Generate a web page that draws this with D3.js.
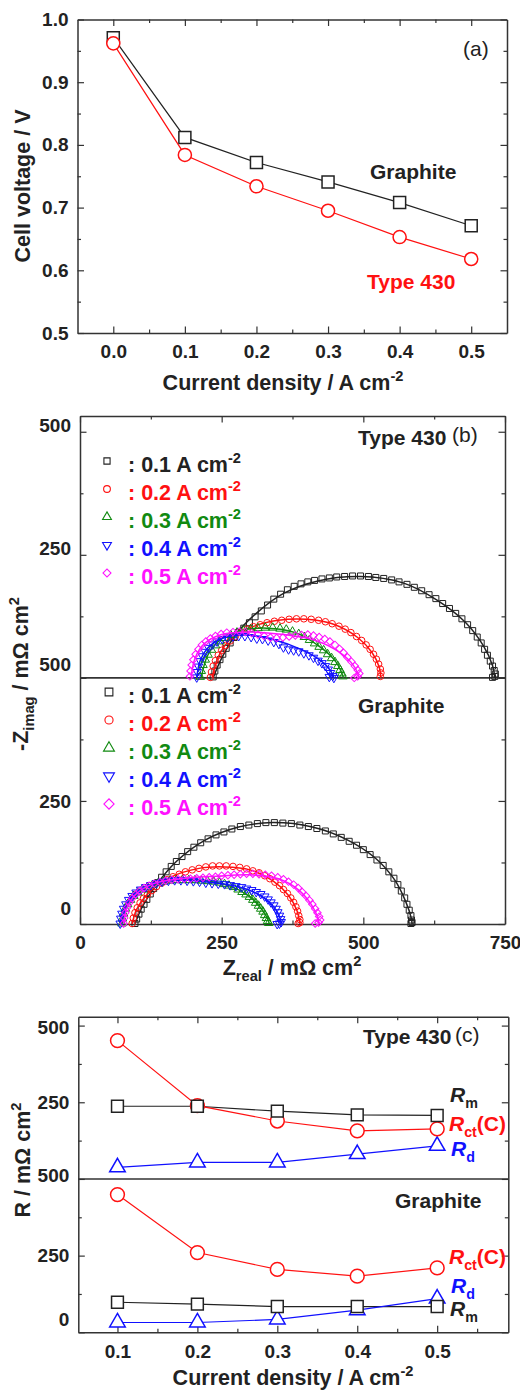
<!DOCTYPE html>
<html>
<head>
<meta charset="utf-8">
<script src="https://cdn.jsdelivr.net/npm/d3@7"></script>
<style>
  body { margin: 0; background: #fff; }
  svg { display: block; font-family: "Liberation Sans", Arial, sans-serif; }
</style>
</head>
<body>
<script>
// ---- data: (a) polarization curves
const densityA = [0.0, 0.1, 0.2, 0.3, 0.4, 0.5];
const voltGraphite = [0.971, 0.812, 0.772, 0.741, 0.708, 0.671];
const voltType430 = [0.962, 0.784, 0.734, 0.695, 0.653, 0.618];

// ---- data: (b) Nyquist plots, [Zreal, -Zimag] in mOhm cm2
const legendLabels = ["0.1", "0.2", "0.3", "0.4", "0.5"];

const t430_01 = [[235,2],[238,14],[242,26],[247,37],[252,48],[258,60],[265,71],[272,82],[280,92],[289,101],[299,112],[309,124],[320,136],[331,148],[342,160],[354,170],[366,179],[378,186],[390,191],[402,195],[414,198],[427,201],[440,203],[453,205],[467,206],[481,207],[495,207],[509,206],[522,204],[536,202],[550,199],[563,195],[577,190],[590,184],[603,177],[616,169],[628,161],[640,151],[652,141],[663,131],[674,120],[684,108],[693,96],[701,83],[708,71],[714,58],[719,46],[724,34],[728,24],[731,15],[733,8],[732,3],[728,1]];
const t430_01Fit = [[235,0],[250,40],[275,88],[310,130],[360,172],[420,197],[495,206],[570,193],[630,158],[680,113],[712,65],[728,25],[732,0]];
const t430_02 = [[230,1],[232,12],[235,24],[239,35],[244,46],[250,56],[257,66],[265,75],[274,84],[284,92],[295,99],[306,104],[318,108],[330,112],[343,115],[356,117],[369,119],[382,120],[395,120],[408,119],[421,117],[433,114],[445,110],[457,105],[468,99],[478,92],[488,84],[497,76],[505,67],[512,58],[518,48],[523,38],[527,28],[530,18],[531,10],[530,3]];
const t430_02Fit = [[233,0],[245,45],[265,78],[300,102],[350,117],[400,119],[450,108],[490,82],[515,52],[528,22],[531,0]];
const t430_03 = [[212,2],[214,14],[217,26],[221,37],[226,47],[232,57],[239,66],[247,74],[256,81],[266,87],[277,92],[289,96],[301,99],[314,101],[327,102],[340,102],[353,100],[364,98],[375,94],[386,89],[396,83],[405,77],[414,70],[422,63],[430,56],[437,48],[444,40],[450,32],[455,24],[459,16],[462,9],[464,3]];
const t430_03Fit = [[214,0],[225,45],[245,75],[280,95],[330,101],[380,92],[420,66],[450,35],[462,10],[465,0]];
const t430_04 = [[206,1],[207,12],[209,23],[212,34],[216,44],[221,53],[227,61],[234,68],[242,74],[251,79],[260,82],[270,84],[280,85],[291,85],[302,83],[312,80],[322,79],[332,76],[342,73],[351,69],[359,62],[368,58],[377,56],[386,54],[395,50],[404,46],[412,41],[420,35],[427,30],[433,24],[438,17],[442,10],[446,4],[448,0],[440,2]];
const t430_04Fit = [[206,0],[212,35],[225,60],[250,80],[290,87],[340,78],[390,58],[425,35],[442,15],[448,0]];
const t430_05 = [[194,3],[195,14],[197,26],[200,37],[204,48],[209,58],[215,67],[222,74],[230,80],[239,85],[249,89],[259,92],[270,93],[281,94],[292,93],[303,91],[314,88],[325,85],[336,82],[347,81],[358,82],[369,84],[380,86],[391,87],[402,88],[412,86],[422,83],[432,79],[441,74],[450,67],[458,59],[465,51],[472,42],[479,33],[485,24],[490,16],[493,9],[490,3],[484,0]];
const t430_05Fit = [[196,0],[203,40],[220,70],[250,88],[300,93],[360,88],[410,78],[450,58],[478,32],[490,10],[492,0]];

const gr_01 = [[97,1],[100,10],[104,20],[108,30],[113,40],[118,50],[124,61],[130,72],[137,84],[144,95],[152,106],[161,117],[170,127],[180,137],[190,147],[201,156],[213,165],[226,173],[240,181],[254,187],[268,193],[283,198],[298,201],[313,204],[328,206],[343,206],[358,205],[373,204],[388,201],[403,198],[418,194],[433,189],[447,183],[461,176],[475,168],[488,160],[500,151],[512,141],[524,130],[535,119],[545,106],[554,93],[561,80],[567,67],[573,53],[577,40],[581,28],[584,17],[585,8],[586,3],[584,1]];
const gr_01Fit = [[97,0],[110,35],[135,80],[170,127],[220,170],[280,197],[340,206],[410,197],[470,172],[520,135],[555,90],[575,45],[585,10],[586,0]];
const gr_02 = [[92,1],[94,12],[97,23],[101,33],[106,43],[112,52],[119,60],[127,68],[135,76],[144,83],[154,90],[164,96],[175,101],[186,106],[198,110],[210,113],[222,116],[234,118],[246,118],[258,118],[270,117],[282,115],[294,112],[305,108],[316,104],[326,98],[335,92],[344,85],[352,78],[359,70],[366,62],[372,53],[377,44],[381,35],[384,26],[386,17],[388,9],[388,3],[385,1]];
const gr_02Fit = [[92,0],[100,30],[120,62],[160,95],[210,113],[255,116],[300,110],[340,88],[368,58],[383,27],[388,0]];
const gr_03 = [[74,1],[75,11],[77,21],[80,31],[84,40],[89,49],[95,57],[102,64],[110,70],[119,75],[128,79],[138,83],[148,86],[159,88],[170,89],[181,89],[192,89],[203,89],[214,88],[225,87],[236,86],[246,84],[255,81],[263,78],[271,75],[279,70],[286,65],[293,60],[299,55],[305,49],[310,43],[315,37],[319,31],[323,25],[326,18],[329,12],[331,6],[333,2]];
const gr_03Fit = [[74,0],[80,30],[95,57],[125,78],[170,89],[220,88],[265,77],[300,55],[322,28],[332,8],[334,0]];
const gr_04 = [[71,1],[72,11],[74,21],[77,31],[81,40],[86,49],[92,57],[99,64],[107,70],[116,75],[125,79],[135,83],[145,86],[156,88],[167,89],[178,89],[189,88],[200,87],[211,86],[222,84],[233,83],[244,82],[255,81],[265,79],[275,77],[285,75],[294,72],[303,69],[311,65],[319,61],[326,56],[332,50],[337,44],[342,38],[346,31],[349,24],[352,17],[354,10],[355,4],[352,1],[348,0]];
const gr_04Fit = [[71,0],[77,30],[92,57],[120,78],[165,89],[220,86],[270,78],[310,63],[338,40],[352,15],[355,0]];
const gr_05 = [[77,1],[78,12],[80,23],[83,33],[87,43],[92,52],[98,60],[105,67],[113,73],[122,78],[131,82],[141,85],[151,88],[162,90],[173,91],[184,92],[195,92],[206,93],[217,94],[228,95],[239,96],[250,98],[261,99],[272,100],[283,101],[294,102],[305,102],[316,101],[327,100],[338,98],[349,95],[359,91],[368,86],[377,80],[385,73],[392,65],[399,57],[405,48],[410,40],[415,31],[419,23],[422,15],[424,8],[421,3],[415,1]];
const gr_05Fit = [[77,0],[83,33],[98,60],[130,82],[180,92],[240,97],[300,100],[350,92],[385,70],[408,40],[420,12],[422,0]];

// ---- data: (c) resistances in mOhm cm2
const densityC = [0.1, 0.2, 0.3, 0.4, 0.5];
const rmType430 = [237, 237, 221, 209, 207];
const rctType430 = [451, 239, 189, 157, 163];
const rdType430 = [38, 54, 54, 81, 108];
const rmGraphite = [98, 92, 84, 84, 84];
const rctGraphite = [449, 260, 205, 183, 210];
const rdGraphite = [32, 32, 42, 72, 110];

// ---- styles
const dark = "#222", red = "#ff1111", green = "#118a11", blue = "#1111ff", magenta = "#ff11ff";
const seriesColors = [dark, red, green, blue, magenta];
const seriesShapes = ["square", "circle", "up", "down", "diamond"];
const STACK = 500; // Type 430 traces are stacked on top of the graphite traces
const TITLE = 21.5, TICK = 19;

const svg = d3.select("body").append("svg")
    .attr("width", 520)
    .attr("height", 1390);

function symbolPath(shape, size) {
  const type = shape === "circle" ? d3.symbolCircle
    : (shape === "square" || shape === "diamond") ? d3.symbolSquare
    : d3.symbolTriangle;
  return d3.symbol(type, size)();
}
function shapeRot(shape) {
  return shape === "diamond" ? 45 : shape === "down" ? 180 : 0;
}

function drawMarkers(g, pts, shape, size, color, fill, sw) {
  g.append("g").selectAll("path")
    .data(pts)
    .join("path")
    .attr("d", symbolPath(shape, size))
    .attr("transform", d => `translate(${d[0]},${d[1]}) rotate(${shapeRot(shape)})`)
    .attr("fill", fill)
    .attr("stroke", color)
    .attr("stroke-width", sw);
}

// text with sub / superscripts; parts = strings or [text, "sub"|"sup"|null, italic]
function rich(g, x, y, parts, o = {}) {
  const size = o.size || 21;
  const t = g.append("text")
    .attr("transform", `translate(${x},${y})${o.rotate ? " rotate(-90)" : ""}`)
    .attr("text-anchor", o.anchor || "start")
    .attr("font-size", size)
    .attr("font-weight", o.weight || "bold")
    .attr("fill", o.color || dark);
  let shift = 0;
  parts.forEach(p => {
    const [str, kind, italic] = typeof p === "string" ? [p] : p;
    const target = kind === "sup" ? -size * 0.42 : kind === "sub" ? size * 0.3 : 0;
    const s = t.append("tspan").text(str).attr("dy", target - shift);
    if (kind) s.attr("font-size", size * 0.68);
    if (italic) s.attr("font-style", "italic");
    shift = target;
  });
  return t;
}

// box with inward major/minor ticks on all four sides
function frame(g, x, y, xt, yt) {
  const [x0, x1] = x.range();
  const [y0, y1] = y.range();
  const styleAxis = sel => {
    sel.select(".domain").attr("stroke", "#333").attr("stroke-width", 1.5);
    sel.selectAll(".tick line").attr("stroke", "#333").attr("stroke-width", 1.2);
    sel.selectAll("text").attr("font-size", TICK).attr("font-weight", "bold").attr("fill", dark)
      .attr("font-family", "'Liberation Sans', Arial, sans-serif");
  };
  const minor = (sel, axis) => sel.call(axis.tickSize(-3.5).tickFormat(""))
    .call(s => s.select(".domain").remove())
    .selectAll(".tick line").attr("stroke", "#333").attr("stroke-width", 1.2);

  g.append("g").attr("transform", `translate(0,${y0})`)
    .call(d3.axisBottom(x).tickValues(xt.major).tickFormat(xt.fmt).tickSize(-6.5).tickSizeOuter(0).tickPadding(12))
    .call(styleAxis);
  g.append("g").attr("transform", `translate(0,${y1})`)
    .call(d3.axisTop(x).tickValues(xt.major).tickFormat("").tickSize(-6.5).tickSizeOuter(0))
    .call(styleAxis);
  g.append("g").attr("transform", `translate(${x0},0)`)
    .call(d3.axisLeft(y).tickValues(yt.major).tickFormat(yt.fmt).tickSize(-6.5).tickSizeOuter(0).tickPadding(9))
    .call(styleAxis)
    .selectAll("text").attr("y", d => (yt.shift ? yt.shift(d) : 0));
  g.append("g").attr("transform", `translate(${x1},0)`)
    .call(d3.axisRight(y).tickValues(yt.major).tickFormat("").tickSize(-6.5).tickSizeOuter(0))
    .call(styleAxis);

  g.append("g").attr("transform", `translate(0,${y0})`).call(minor, d3.axisBottom(x).tickValues(xt.minor));
  g.append("g").attr("transform", `translate(0,${y1})`).call(minor, d3.axisTop(x).tickValues(xt.minor));
  g.append("g").attr("transform", `translate(${x0},0)`).call(minor, d3.axisLeft(y).tickValues(yt.minor));
  g.append("g").attr("transform", `translate(${x1},0)`).call(minor, d3.axisRight(y).tickValues(yt.minor));
}

// ================= (a) cell voltage =================
{
  const g = svg.append("g");
  const x = d3.scaleLinear().domain([-0.05, 0.55]).range([77.5, 507]);
  const y = d3.scaleLinear().domain([0.5, 1.0]).range([333, 19.5]);
  frame(g, x, y,
    { major: [0, 0.1, 0.2, 0.3, 0.4, 0.5], minor: [0.05, 0.15, 0.25, 0.35, 0.45], fmt: d3.format(".1f") },
    { major: [0.5, 0.6, 0.7, 0.8, 0.9, 1.0], minor: [0.55, 0.65, 0.75, 0.85, 0.95], fmt: d3.format(".1f") });

  const line = d3.line().x(d => x(d[0])).y(d => y(d[1]));
  [[voltGraphite, dark, "square", 144], [voltType430, red, "circle", 135]].forEach(([vals, c, shape, size]) => {
    const pts = densityA.map((d, i) => [d, vals[i]]);
    g.append("path").attr("d", line(pts)).attr("fill", "none").attr("stroke", c).attr("stroke-width", 1.2);
    drawMarkers(g, pts.map(p => [x(p[0]), y(p[1])]), shape, size, c, "#fff", 1.5);
  });

  rich(g, 370, 179, ["Graphite"]);
  rich(g, 367, 289, ["Type 430"], { color: red });
  rich(g, 463, 56, ["(a)"], { weight: "normal" });
  rich(g, 283, 390, ["Current density / A cm", ["-2", "sup"]], { anchor: "middle", size: TITLE });
  rich(g, 30, 186, ["Cell voltage / V"], { anchor: "middle", rotate: true, size: TITLE });
}

// ================= (b) Nyquist =================
{
  const g = svg.append("g");
  const x = d3.scaleLinear().domain([0, 750]).range([80, 505]);
  const y = d3.scaleLinear().domain([0, 1032]).range([924, 416]);
  const labelShift = { 0: -16, 500: -13, 750: -6, 1000: -6 };
  frame(g, x, y,
    { major: [0, 250, 500, 750], minor: [125, 375, 625], fmt: d3.format("d") },
    { major: [0, 250, 500, 750, 1000], minor: [125, 375, 625, 875],
      fmt: d => String(d > STACK ? d - STACK : d), shift: d => labelShift[d] || 0 });

  g.append("line").attr("x1", 80).attr("x2", 505).attr("y1", y(STACK)).attr("y2", y(STACK))
    .attr("stroke", "#333").attr("stroke-width", 1.6);

  const fitLine = d3.line().curve(d3.curveCatmullRom.alpha(0.5));
  const sets = [
    [gr_01, gr_01Fit], [gr_02, gr_02Fit], [gr_03, gr_03Fit], [gr_04, gr_04Fit], [gr_05, gr_05Fit]
  ].map((s, i) => ({ data: s[0], fit: s[1], i, off: 0 }))
   .concat([
    [t430_01, t430_01Fit], [t430_02, t430_02Fit], [t430_03, t430_03Fit], [t430_04, t430_04Fit], [t430_05, t430_05Fit]
  ].map((s, i) => ({ data: s[0], fit: s[1], i, off: STACK })));

  const symSize = { square: 36, circle: 34, up: 32, down: 32, diamond: 28 };
  sets.forEach(s => {
    const c = seriesColors[s.i], shape = seriesShapes[s.i];
    drawMarkers(g, s.data.map(p => [x(p[0]), y(p[1] + s.off)]), shape, symSize[shape], c, "none", 1);
    g.append("path")
      .attr("d", fitLine(s.fit.map(p => [x(p[0]), y(p[1] + s.off)])))
      .attr("fill", "none").attr("stroke", c).attr("stroke-width", 1.5);
  });

  // legends
  const legendSize = { square: 38, circle: 36, up: 34, down: 34, diamond: 32 };
  const legendSizeBig = { square: 60, circle: 52, up: 52, down: 52, diamond: 52 };
  legendLabels.forEach((lab, i) => {
    const c = seriesColors[i], shape = seriesShapes[i];
    const yTop = 472 + i * 28, yBot = 703 + i * 28;
    drawMarkers(g, [[107, yTop - 11]], shape, legendSize[shape], c, "none", 1.1);
    rich(g, 128, yTop, [": " + lab + " A cm", ["-2", "sup"]], { color: c, size: TITLE });
    drawMarkers(g, [[109, yBot - 11]], shape, legendSizeBig[shape], c, "none", 1.1);
    rich(g, 128, yBot, [": " + lab + " A cm", ["-2", "sup"]], { color: c, size: TITLE });
  });

  rich(g, 358, 445, ["Type 430"]);
  rich(g, 452, 442, ["(b)"], { weight: "normal" });
  rich(g, 358, 713, ["Graphite"]);
  rich(g, 292, 975, ["Z", ["real", "sub"], " / m\u03A9 cm", ["2", "sup"]], { anchor: "middle", size: TITLE });
  rich(g, 28, 674, ["-Z", ["imag", "sub"], " / m\u03A9 cm", ["2", "sup"]], { anchor: "middle", rotate: true, size: TITLE });
}

// ================= (c) resistances =================
{
  const g = svg.append("g");
  const x = d3.scaleLinear().domain([0.051, 0.589]).range([78.3, 508.3]);
  const y = d3.scaleLinear().domain([0, 1029]).range([1332.3, 1016.7]);
  const labelShift = { 0: -13, 500: -4, 1000: 2 };
  frame(g, x, y,
    { major: [0.1, 0.2, 0.3, 0.4, 0.5], minor: [0.15, 0.25, 0.35, 0.45, 0.55], fmt: d3.format(".1f") },
    { major: [0, 250, 500, 750, 1000], minor: [125, 375, 625, 875],
      fmt: d => String(d > STACK ? d - STACK : d), shift: d => labelShift[d] || 0 });

  g.append("line").attr("x1", 78.3).attr("x2", 508.3).attr("y1", y(STACK)).attr("y2", y(STACK))
    .attr("stroke", "#333").attr("stroke-width", 1.6);

  const line = d3.line();
  const groups = [
    [rmType430, dark, "square", STACK], [rctType430, red, "circle", STACK], [rdType430, blue, "up", STACK],
    [rmGraphite, dark, "square", 0], [rctGraphite, red, "circle", 0], [rdGraphite, blue, "up", 0]
  ].map(([vals, c, shape, off]) => ({ c, shape, pts: densityC.map((d, i) => [x(d), y(vals[i] + off)]) }));

  groups.forEach(s => {
    g.append("path").attr("d", line(s.pts)).attr("fill", "none").attr("stroke", s.c).attr("stroke-width", 1.2);
  });
  const mSize = { square: 140, circle: 150, up: 105 };
  ["up", "circle", "square"].forEach(shape => {
    groups.filter(s => s.shape === shape).forEach(s => drawMarkers(g, s.pts, shape, mSize[shape], s.c, "#fff", 1.5));
  });

  rich(g, 363, 1044, ["Type 430"]);
  rich(g, 455, 1042, ["(c)"], { weight: "normal" });
  rich(g, 395, 1208, ["Graphite"]);
  rich(g, 450, 1102, [["R", null, true], ["m", "sub"]]);
  rich(g, 449, 1131, [["R", null, true], ["ct", "sub"], "(C)"], { color: red });
  rich(g, 451, 1156, [["R", null, true], ["d", "sub"]], { color: blue });
  rich(g, 449, 1264, [["R", null, true], ["ct", "sub"], "(C)"], { color: red });
  rich(g, 451, 1293, [["R", null, true], ["d", "sub"]], { color: blue });
  rich(g, 450, 1316, [["R", null, true], ["m", "sub"]]);
  rich(g, 293, 1385, ["Current density / A cm", ["-2", "sup"]], { anchor: "middle", size: TITLE });
  rich(g, 30, 1160, ["R / m\u03A9 cm", ["2", "sup"]], { anchor: "middle", rotate: true, size: TITLE });
}
</script>
</body>
</html>
